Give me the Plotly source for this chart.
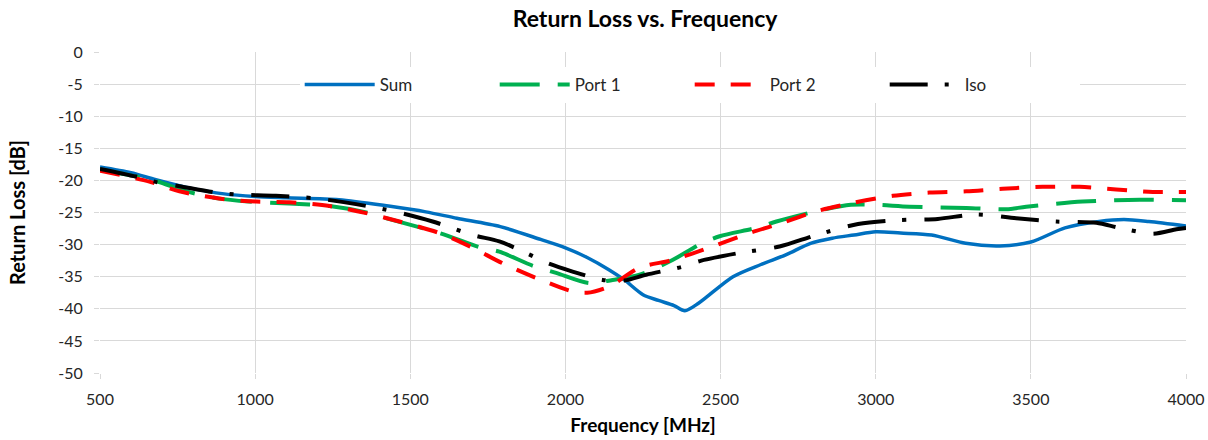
import plotly.graph_objects as go

# ---- data ----
sum_f = [500, 600, 680, 790, 900, 1000, 1100, 1270, 1430, 1550, 1650, 1790, 1920, 2000, 2070,
         2140, 2190, 2250, 2300, 2350, 2385, 2430, 2540, 2630, 2710, 2790, 2860, 2930, 3000,
         3080, 3180, 3290, 3400, 3500, 3610, 3720, 3800, 3880, 4000]
sum_db = [-17.9, -18.8, -19.9, -21.2, -22.1, -22.5, -22.7, -23.0, -24.0, -24.9, -25.9, -27.2,
          -29.2, -30.5, -32.0, -33.9, -35.5, -37.8, -38.7, -39.5, -40.3, -39.1, -35.0, -33.1,
          -31.6, -29.8, -29.0, -28.5, -28.0, -28.2, -28.5, -29.8, -30.2, -29.6, -27.4, -26.4,
          -26.1, -26.4, -27.1]

p1_f = [500, 680, 770, 880, 980, 1110, 1240, 1358, 1430, 1594, 1723, 1787, 1895, 1970, 2077,
        2152, 2239, 2345, 2432, 2497, 2615, 2680, 2809, 2920, 3000, 3109, 3292, 3420, 3485,
        3667, 3851, 4000]
p1_db = [-18.3, -20.1, -21.6, -22.8, -23.3, -23.6, -24.0, -25.0, -26.0, -28.2, -30.4, -31.1,
         -33.3, -34.4, -36.0, -35.5, -34.7, -32.4, -30.0, -28.7, -27.4, -26.4, -24.8, -23.8,
         -23.8, -24.1, -24.3, -24.5, -24.1, -23.3, -23.0, -23.1]

p2_f = [500, 659, 756, 895, 1003, 1110, 1240, 1358, 1465, 1594, 1701, 1797, 1906, 2023, 2070,
        2142, 2239, 2345, 2474, 2593, 2700, 2809, 2926, 3055, 3173, 3292, 3409, 3538, 3657,
        3775, 3893, 4000]
p2_db = [-18.5, -20.2, -21.7, -22.9, -23.3, -23.4, -24.0, -25.1, -26.4, -28.2, -30.5, -32.9,
         -35.2, -37.3, -37.5, -36.5, -33.6, -32.4, -30.3, -28.2, -26.6, -24.8, -23.5, -22.4,
         -21.9, -21.7, -21.3, -21.0, -21.0, -21.4, -21.8, -21.8]

iso_f = [500, 616, 685, 756, 874, 938, 1067, 1196, 1325, 1454, 1572, 1701, 1787, 1873, 1943,
         2023, 2120, 2190, 2260, 2373, 2438, 2561, 2690, 2809, 2943, 3066, 3200, 3324, 3453,
         3582, 3711, 3786, 3893, 3969, 4000]
iso_db = [-18.2, -19.4, -20.3, -20.9, -21.9, -22.2, -22.4, -22.8, -23.7, -24.9, -26.4, -28.5,
          -29.5, -31.3, -32.9, -34.2, -35.5, -35.6, -34.7, -33.5, -32.5, -31.3, -30.3, -28.5,
          -26.8, -26.2, -26.0, -25.3, -25.9, -26.4, -26.6, -27.4, -28.3, -27.6, -27.4]

x_ticks = [500, 1000, 1500, 2000, 2500, 3000, 3500, 4000]
y_ticks = [0, -5, -10, -15, -20, -25, -30, -35, -40, -45, -50]

FONT = "Lato"
GRID = "#D9D9D9"
TXT = "#262626"

fig = go.Figure()
fig.add_trace(go.Scatter(x=sum_f, y=sum_db, name="Sum", mode="lines",
                         line=dict(color="#0070C0", width=3.5, shape="spline", smoothing=0.8)))
fig.add_trace(go.Scatter(x=p1_f, y=p1_db, name="Port 1", mode="lines",
                         line=dict(color="#00B050", width=4, dash="40px,18px",
                                   shape="spline", smoothing=0.8)))
fig.add_trace(go.Scatter(x=p2_f, y=p2_db, name="Port 2", mode="lines",
                         line=dict(color="#FF0000", width=4, dash="20px,16px",
                                   shape="spline", smoothing=0.8)))
fig.add_trace(go.Scatter(x=iso_f, y=iso_db, name="Iso", mode="lines",
                         line=dict(color="#000000", width=4, dash="38px,17px,4px,18px",
                                   shape="spline", smoothing=0.8)))

fig.update_layout(
    width=1208, height=440,
    margin=dict(l=100, r=22, t=52, b=67),
    paper_bgcolor="white", plot_bgcolor="white",
    font=dict(family=FONT, size=16, color=TXT),
    title=dict(text="<b>Return Loss vs. Frequency</b>", x=0.534, xanchor="center",
               y=0.958, yanchor="middle", font=dict(family=FONT, size=23, color="#000000")),
    showlegend=True,
    legend=dict(orientation="h", x=0.543, xanchor="center", y=0.897, yanchor="middle",
                bgcolor="white", font=dict(family=FONT, size=17, color=TXT),
                entrywidth=110, entrywidthmode="pixels", itemwidth=70,
                traceorder="normal"),
)
fig.update_xaxes(range=[500, 4000], tickvals=x_ticks, ticktext=[str(v) for v in x_ticks],
                 showgrid=True, gridcolor=GRID, gridwidth=1, zeroline=False,
                 showline=False, ticks="outside", ticklen=5, tickcolor=GRID,
                 ticklabelstandoff=7, ticklabeloverflow="allow", automargin=False,
                 tickfont=dict(family=FONT, size=16, color=TXT),
                 title=dict(text="<b>Frequency [MHz]</b>", standoff=11,
                            font=dict(family=FONT, size=19, color="#000000")))
fig.update_yaxes(range=[-50, 0], tickvals=y_ticks, ticktext=[str(v) for v in y_ticks],
                 showgrid=True, gridcolor=GRID, gridwidth=1, zeroline=False,
                 showline=False, ticks="outside", ticklen=5, tickcolor=GRID,
                 ticklabelstandoff=8, automargin=False,
                 tickfont=dict(family=FONT, size=16, color=TXT),
                 title=dict(text="<b>Return Loss [dB]</b>", standoff=27,
                            font=dict(family=FONT, size=20, color="#000000")))

# remove the browser's default 8px body margin so the figure fills the window exactly
fig.write_html("out.html", config={"displayModeBar": False},
               post_script="document.body.style.margin='0px';")
